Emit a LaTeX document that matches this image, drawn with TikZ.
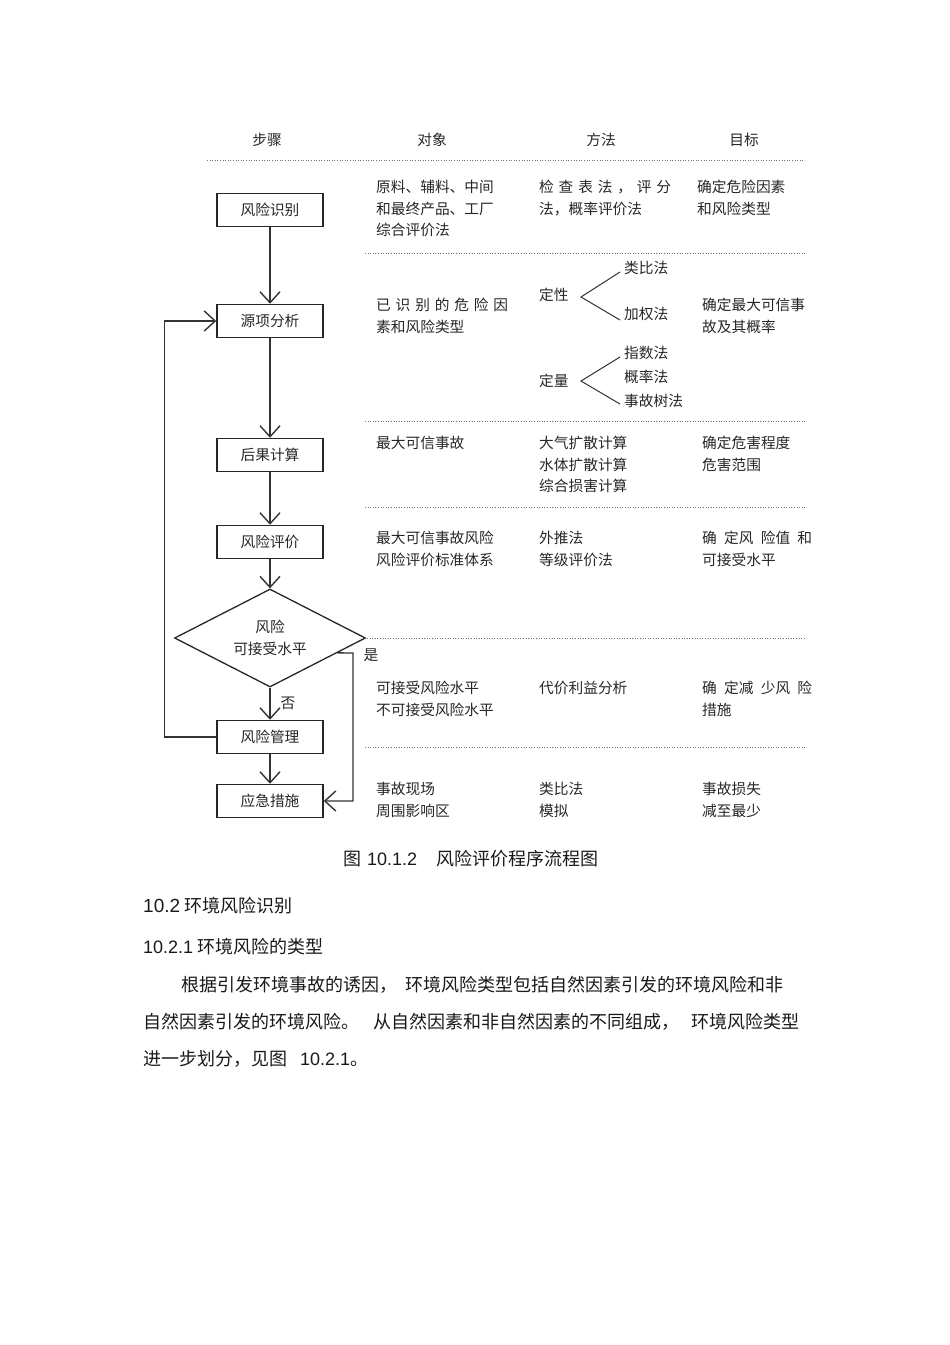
\documentclass[tikz,border=0pt]{standalone}
\usepackage{fontspec}
\setmainfont{Liberation Sans}
\newfontfamily\cjk{Noto Sans CJK SC}
\usetikzlibrary{shapes.geometric,arrows.meta,calc}

\newcommand\cellfont{\cjk\fontsize{14.7}{21.5}\selectfont}
\newcommand\bodyfont{\cjk\fontsize{18}{20}\selectfont}

\tikzset{
  stepbox/.style={draw=black!85, line width=1.5pt, minimum width=106pt,
    minimum height=33pt, inner sep=0pt, font=\cellfont, text=black!85},
  decision/.style={diamond, aspect=1.95, draw=black!85, line width=1.3pt,
    minimum width=191pt, minimum height=98pt, inner sep=0pt, align=center,
    font=\cellfont, text=black!85},
  flow/.style={line width=1.4pt, draw=black!80,
    -{Straight Barb[length=11pt,width=20pt,line width=1.4pt]}},
  sepline/.style={dotted, draw=black!55, line width=0.6pt},
  cell/.style={anchor=north west, inner sep=0pt, align=left, font=\cellfont,
    text=black!85},
  head/.style={inner sep=0pt, font=\cellfont, text=black!85},
  body/.style={anchor=base west, inner sep=0pt, font=\bodyfont, text=black!90}
}

\begin{document}
\begin{tikzpicture}[x=1pt,y=-1pt]
  \useasboundingbox (0,0) rectangle (950,1345);

  % column heads
  \node[head] (hStep) at (267,140) {步骤};
  \node[head] (hObj) at (432,140) {对象};
  \node[head] (hWay) at (601,140) {方法};
  \node[head] (hAim) at (744,140) {目标};
  \draw[sepline] (207,160) -- (805,160);

  % flow chart
  \node[stepbox] (ident) at (270,210) {风险识别};
  \node[stepbox] (src) at (270,321) {源项分析};
  \node[stepbox] (conseq) at (270,455) {后果计算};
  \node[stepbox] (evalu) at (270,542) {风险评价};
  \node[decision] (dec) at (270,638) {风险\\可接受水平};
  \node[stepbox] (mgmt) at (270,737) {风险管理};
  \node[stepbox] (emer) at (270,801) {应急措施};

  \draw[flow] (ident) -- (src);
  \draw[flow] (src) -- (conseq);
  \draw[flow] (conseq) -- (evalu);
  \draw[flow] (evalu) -- (dec.north);
  \draw[flow] (dec.south) -- (mgmt);
  \draw[flow] (mgmt) -- (emer);
  \draw[flow] (mgmt.west) -- ++(-52,0) |- (src.west);
  \coordinate (yesA) at ($(dec.east)!0.3!(dec.south)$);
  \coordinate (yesB) at (353,653);
  \draw[flow] (yesA) -- (yesB) |- (emer.east);
  \node[head] (yes) at (371,655) {是};
  \node[head] (no) at (288,703) {否};

  % separators
  \draw[sepline] (365,253) -- (805,253);
  \draw[sepline] (365,421) -- (805,421);
  \draw[sepline] (365,507) -- (805,507);
  \draw[sepline] (367,638) -- (805,638);
  \draw[sepline] (365,747) -- (805,747);

  % row 1
  \node[cell] (o1) at (376,180) {原料、辅料、中间\\和最终产品、工厂\\综合评价法};
  \node[cell] (m1) at (539,180) {\makebox[132pt][s]{检\hfill 查\hfill 表\hfill 法\hfill ，\hfill 评\hfill 分}\\法，概率评价法};
  \node[cell] (a1) at (697,180) {确定危险因素\\和风险类型};

  % row 2
  \node[cell] (o2) at (376,298) {\makebox[132pt][s]{已\hfill 识\hfill 别\hfill 的\hfill 危\hfill 险\hfill 因}\\素和风险类型};
  \node[head, anchor=west] (qual) at (539,295) {定性};
  \node[head, anchor=west] (qualA) at (624,268) {类比法};
  \node[head, anchor=west] (qualB) at (624,314) {加权法};
  \draw[line width=1pt, black!80] (620,272) -- (581,297) -- (620,320);
  \node[head, anchor=west] (quan) at (539,381) {定量};
  \node[head, anchor=west] (quanA) at (624,353) {指数法};
  \node[head, anchor=west] (quanB) at (624,377) {概率法};
  \node[head, anchor=west] (quanC) at (624,401) {事故树法};
  \draw[line width=1pt, black!80] (620,357) -- (581,381) -- (620,404);
  \node[cell] (a2) at (702,298) {确定最大可信事\\故及其概率};

  % row 3
  \node[cell] (o3) at (376,436) {最大可信事故};
  \node[cell] (m3) at (539,436) {大气扩散计算\\水体扩散计算\\综合损害计算};
  \node[cell] (a3) at (702,436) {确定危害程度\\危害范围};

  % row 4
  \node[cell] (o4) at (376,531) {最大可信事故风险\\风险评价标准体系};
  \node[cell] (m4) at (539,531) {外推法\\等级评价法};
  \node[cell] (a4) at (702,531) {\makebox[110pt][s]{确\hfill 定风\hfill 险值\hfill 和}\\可接受水平};

  % row 5
  \node[cell] (o5) at (376,681) {可接受风险水平\\不可接受风险水平};
  \node[cell] (m5) at (539,681) {代价利益分析};
  \node[cell] (a5) at (702,681) {\makebox[110pt][s]{确\hfill 定减\hfill 少风\hfill 险}\\措施};

  % row 6
  \node[cell] (o6) at (376,782) {事故现场\\周围影响区};
  \node[cell] (m6) at (539,782) {类比法\\模拟};
  \node[cell] (a6) at (702,782) {事故损失\\减至最少};

  % caption and text below
  \node[body] (cap) at (343,865) {图\hspace{6pt}{\rmfamily 10.1.2}\hspace{19pt}风险评价程序流程图};
  \node[body] (sec) at (143,912) {{\rmfamily\fontsize{19}{20}\selectfont 10.2} 环境风险识别};
  \node[body] (subsec) at (143,953) {{\rmfamily 10.2.1} 环境风险的类型};
  \node[body] (par1) at (181,991) {根据引发环境事故的诱因，\hspace{8pt}环境风险类型包括自然因素引发的环境风险和非};
  \node[body] (par2) at (143,1028) {自然因素引发的环境风险。\hspace{14pt}从自然因素和非自然因素的不同组成，\hspace{12pt}环境风险类型};
  \node[body] (par3) at (143,1065) {进一步划分，见图\hspace{13pt}{\rmfamily 10.2.1}。};
\end{tikzpicture}
\end{document}
